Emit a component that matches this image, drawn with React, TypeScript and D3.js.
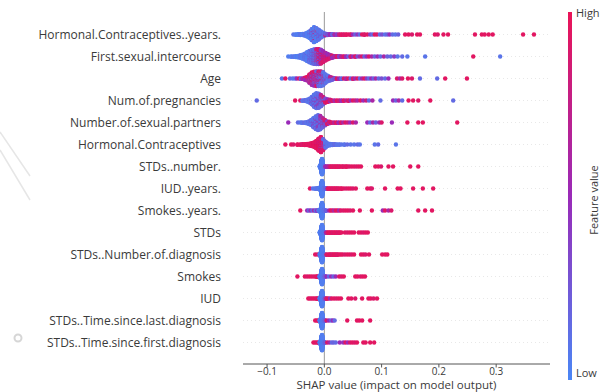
import React from 'react'
import * as d3 from 'd3'

// [shap value, number of points at that value, feature value 0 (low) .. 1 (high)]
type Group = [number, number, number]

const features = [
  'Hormonal.Contraceptives..years.',
  'First.sexual.intercourse',
  'Age',
  'Num.of.pregnancies',
  'Number.of.sexual.partners',
  'Hormonal.Contraceptives',
  'STDs..number.',
  'IUD..years.',
  'Smokes..years.',
  'STDs',
  'STDs..Number.of.diagnosis',
  'Smokes',
  'IUD',
  'STDs..Time.since.last.diagnosis',
  'STDs..Time.since.first.diagnosis',
]

const hcYears: Group[] = [
  [-0.054, 1, 0.1], [-0.05, 2, 0.05], [-0.046, 3, 0.05], [-0.042, 4, 0.1], [-0.038, 5, 0.05],
  [-0.034, 8, 0.1], [-0.03, 14, 0.05], [-0.026, 22, 0.05], [-0.026, 2, 0.5], [-0.022, 34, 0.05],
  [-0.022, 6, 0.6], [-0.018, 44, 0.05], [-0.018, 6, 0.9], [-0.018, 4, 0.5], [-0.014, 40, 0.05],
  [-0.014, 6, 0.9], [-0.01, 32, 0.1], [-0.01, 4, 0.5], [-0.006, 20, 0.1], [-0.006, 3, 0.6],
  [-0.002, 10, 0.1], [-0.002, 3, 0.5], [0.002, 5, 0.2], [0.002, 2, 0.7], [0.006, 4, 0.3],
  [0.01, 3, 0.5], [0.014, 3, 0.2], [0.018, 2, 0.6], [0.022, 2, 0.4], [0.026, 2, 0.8],
  [0.03, 2, 0.95], [0.034, 2, 0.9], [0.038, 2, 0.95], [0.042, 1, 0.95], [0.046, 2, 0.9],
  [0.05, 1, 0.5], [0.054, 1, 0.2], [0.058, 1, 0.45], [0.062, 1, 0.15], [0.066, 1, 0.95],
  [0.07, 2, 0.9], [0.075, 1, 0.95], [0.08, 1, 0.4], [0.084, 1, 0.15], [0.088, 1, 0.95],
  [0.092, 1, 0.9], [0.097, 1, 0.15], [0.101, 1, 0.3], [0.106, 1, 0.1], [0.11, 1, 0.2],
  [0.114, 1, 0.5], [0.119, 1, 0.15], [0.124, 1, 0.1], [0.129, 1, 0.2], [0.141, 1, 0.95],
  [0.147, 1, 0.95], [0.153, 1, 0.9], [0.162, 1, 0.95], [0.167, 1, 0.95], [0.193, 1, 0.95],
  [0.198, 1, 0.9], [0.208, 1, 0.95], [0.216, 1, 0.95], [0.263, 1, 0.95], [0.275, 1, 0.95],
  [0.28, 1, 0.95], [0.287, 1, 0.95], [0.294, 1, 0.95], [0.347, 1, 0.95], [0.366, 1, 0.95],
]

const firstSex: Group[] = [
  [-0.063, 1, 0.05], [-0.058, 2, 0.05], [-0.054, 2, 0.1], [-0.05, 4, 0.05], [-0.046, 6, 0.05],
  [-0.042, 9, 0.1], [-0.038, 14, 0.05], [-0.034, 20, 0.1], [-0.03, 28, 0.05], [-0.03, 2, 0.5],
  [-0.026, 34, 0.1], [-0.026, 4, 0.5], [-0.022, 38, 0.1], [-0.022, 6, 0.5], [-0.018, 38, 0.15],
  [-0.018, 10, 0.6], [-0.014, 34, 0.2], [-0.014, 16, 0.8], [-0.01, 28, 0.3], [-0.01, 22, 0.9],
  [-0.006, 20, 0.4], [-0.006, 26, 0.85], [-0.002, 14, 0.5], [-0.002, 22, 0.9], [0.002, 10, 0.6],
  [0.002, 16, 0.85], [0.006, 8, 0.5], [0.006, 10, 0.9], [0.01, 6, 0.6], [0.01, 6, 0.85],
  [0.014, 5, 0.5], [0.014, 3, 0.9], [0.018, 4, 0.6], [0.022, 3, 0.9], [0.026, 3, 0.4],
  [0.03, 2, 0.7], [0.034, 2, 0.9], [0.038, 2, 0.5], [0.042, 1, 0.2], [0.046, 2, 0.85],
  [0.05, 1, 0.5], [0.054, 2, 0.9], [0.058, 1, 0.3], [0.062, 1, 0.6], [0.066, 1, 0.9],
  [0.07, 1, 0.2], [0.074, 1, 0.5], [0.078, 1, 0.9], [0.083, 1, 0.6], [0.088, 1, 0.2],
  [0.093, 1, 0.5], [0.098, 1, 0.15], [0.104, 1, 0.6], [0.11, 1, 0.2], [0.116, 1, 0.15],
  [0.122, 1, 0.4], [0.128, 1, 0.1], [0.136, 1, 0.15], [0.145, 1, 0.1], [0.176, 1, 0.1],
  [0.26, 1, 0.95], [0.307, 1, 0.1],
]

const age: Group[] = [
  [-0.074, 1, 0.1], [-0.068, 1, 0.95], [-0.06, 1, 0.15], [-0.055, 1, 0.1], [-0.051, 1, 0.1],
  [-0.048, 1, 0.5], [-0.044, 1, 0.95], [-0.041, 2, 0.2], [-0.038, 2, 0.6], [-0.034, 4, 0.5],
  [-0.034, 2, 0.9], [-0.03, 6, 0.6], [-0.03, 4, 0.95], [-0.026, 10, 0.7], [-0.026, 8, 0.95],
  [-0.026, 4, 0.2], [-0.022, 14, 0.6], [-0.022, 12, 0.95], [-0.022, 6, 0.2], [-0.018, 14, 0.5],
  [-0.018, 12, 0.95], [-0.018, 10, 0.15], [-0.014, 12, 0.6], [-0.014, 14, 0.9], [-0.014, 12, 0.2],
  [-0.01, 10, 0.5], [-0.01, 12, 0.9], [-0.01, 16, 0.15], [-0.006, 8, 0.5], [-0.006, 10, 0.85],
  [-0.006, 20, 0.1], [-0.002, 6, 0.6], [-0.002, 6, 0.9], [-0.002, 22, 0.1], [0.002, 4, 0.6],
  [0.002, 18, 0.1], [0.006, 3, 0.5], [0.006, 12, 0.1], [0.01, 3, 0.7], [0.01, 7, 0.15],
  [0.014, 4, 0.2], [0.014, 2, 0.8], [0.018, 3, 0.3], [0.022, 2, 0.9], [0.026, 2, 0.5],
  [0.03, 2, 0.15], [0.034, 1, 0.9], [0.038, 2, 0.6], [0.042, 1, 0.95], [0.046, 1, 0.2],
  [0.05, 2, 0.85], [0.054, 1, 0.5], [0.058, 1, 0.95], [0.062, 1, 0.2], [0.066, 1, 0.6],
  [0.07, 1, 0.95], [0.074, 1, 0.4], [0.078, 1, 0.15], [0.082, 1, 0.5], [0.086, 1, 0.2],
  [0.09, 1, 0.6], [0.095, 1, 0.15], [0.1, 1, 0.3], [0.106, 1, 0.15], [0.112, 1, 0.5],
  [0.127, 1, 0.9], [0.132, 1, 0.6], [0.136, 1, 0.9], [0.146, 1, 0.95], [0.153, 1, 0.9],
  [0.167, 1, 0.15], [0.197, 1, 0.15], [0.211, 1, 0.95], [0.249, 1, 0.95],
]

const pregnancies: Group[] = [
  [-0.118, 1, 0.15], [-0.051, 1, 0.95], [-0.042, 1, 0.9], [-0.038, 2, 0.1], [-0.034, 3, 0.15],
  [-0.03, 6, 0.1], [-0.026, 11, 0.1], [-0.026, 1, 0.5], [-0.022, 18, 0.1], [-0.022, 4, 0.5],
  [-0.018, 28, 0.1], [-0.018, 8, 0.5], [-0.014, 34, 0.1], [-0.014, 10, 0.55], [-0.01, 32, 0.15],
  [-0.01, 10, 0.6], [-0.006, 24, 0.15], [-0.006, 10, 0.7], [-0.002, 14, 0.2], [-0.002, 8, 0.8],
  [0.002, 6, 0.3], [0.002, 6, 0.9], [0.006, 4, 0.5], [0.006, 4, 0.95], [0.01, 3, 0.8],
  [0.01, 2, 0.5], [0.014, 2, 0.9], [0.018, 2, 0.6], [0.022, 2, 0.95], [0.026, 2, 0.8],
  [0.03, 2, 0.5], [0.034, 2, 0.95], [0.038, 1, 0.7], [0.042, 2, 0.9], [0.046, 1, 0.5],
  [0.05, 1, 0.95], [0.054, 1, 0.8], [0.058, 1, 0.6], [0.063, 1, 0.95], [0.068, 1, 0.5],
  [0.073, 1, 0.8], [0.078, 1, 0.15], [0.084, 1, 0.6], [0.098, 1, 0.15], [0.12, 1, 0.5],
  [0.125, 1, 0.2], [0.13, 1, 0.6], [0.136, 1, 0.15], [0.147, 1, 0.95], [0.155, 1, 0.95],
  [0.164, 1, 0.9], [0.185, 1, 0.95], [0.225, 1, 0.15],
]

const partners: Group[] = [
  [-0.063, 1, 0.5], [-0.046, 1, 0.15], [-0.042, 1, 0.1], [-0.039, 2, 0.1], [-0.035, 2, 0.15],
  [-0.031, 4, 0.1], [-0.027, 7, 0.1], [-0.027, 1, 0.5], [-0.023, 12, 0.1], [-0.023, 3, 0.5],
  [-0.019, 20, 0.1], [-0.019, 6, 0.5], [-0.015, 28, 0.1], [-0.015, 8, 0.55], [-0.011, 32, 0.15],
  [-0.011, 10, 0.6], [-0.007, 28, 0.15], [-0.007, 10, 0.6], [-0.003, 18, 0.2], [-0.003, 8, 0.7],
  [0.001, 10, 0.3], [0.001, 6, 0.85], [0.005, 4, 0.4], [0.005, 4, 0.9], [0.009, 2, 0.5],
  [0.009, 3, 0.9], [0.013, 2, 0.9], [0.017, 2, 0.7], [0.021, 2, 0.95], [0.025, 2, 0.5],
  [0.029, 2, 0.9], [0.033, 1, 0.6], [0.037, 1, 0.95], [0.041, 1, 0.8], [0.045, 1, 0.5],
  [0.05, 1, 0.9], [0.055, 1, 0.6], [0.075, 1, 0.5], [0.08, 1, 0.15], [0.085, 1, 0.6],
  [0.09, 1, 0.2], [0.096, 1, 0.5], [0.1, 1, 0.9], [0.118, 1, 0.5], [0.145, 1, 0.95],
  [0.164, 1, 0.95], [0.172, 1, 0.95], [0.232, 1, 0.95],
]

const hc: Group[] = [
  [-0.068, 1, 0.95], [-0.058, 1, 0.95], [-0.054, 1, 0.9], [-0.047, 2, 0.95], [-0.042, 2, 0.95],
  [-0.038, 3, 0.9], [-0.034, 4, 0.95], [-0.03, 5, 0.95], [-0.026, 8, 0.95], [-0.022, 12, 0.95],
  [-0.018, 18, 0.95], [-0.014, 28, 0.95], [-0.014, 2, 0.6], [-0.01, 44, 0.95], [-0.01, 4, 0.6],
  [-0.006, 52, 0.95], [-0.006, 6, 0.55], [-0.006, 4, 0.2], [-0.002, 26, 0.9], [-0.002, 8, 0.55],
  [-0.002, 10, 0.15], [0.002, 20, 0.1], [0.002, 4, 0.6], [0.006, 10, 0.1], [0.01, 6, 0.1],
  [0.014, 4, 0.1], [0.018, 3, 0.15], [0.022, 2, 0.1], [0.026, 2, 0.1], [0.03, 1, 0.1],
  [0.035, 2, 0.1], [0.04, 1, 0.15], [0.046, 1, 0.1], [0.052, 1, 0.1], [0.058, 1, 0.15],
  [0.062, 1, 0.1], [0.088, 1, 0.1], [0.094, 1, 0.15], [0.125, 1, 0.1],
]

// the narrow blue spike just left of zero shared by the sparse binary/count features
const zeroSpike: Group[] = [
  [-0.008, 3, 0.05], [-0.007, 8, 0.05], [-0.006, 24, 0.05], [-0.005, 55, 0.05], [-0.004, 70, 0.05],
  [-0.003, 45, 0.05], [-0.002, 14, 0.05], [-0.001, 5, 0.1],
]

const stdsNumber: Group[] = [
  ...zeroSpike,
  [0.002, 2, 0.5], [0.005, 2, 0.6], [0.008, 2, 0.7], [0.011, 2, 0.9], [0.014, 2, 0.95],
  [0.017, 2, 0.9], [0.02, 2, 0.95], [0.023, 2, 0.95], [0.026, 2, 0.9], [0.029, 1, 0.95],
  [0.032, 2, 0.95], [0.035, 1, 0.9], [0.038, 2, 0.95], [0.041, 1, 0.95], [0.044, 1, 0.9],
  [0.048, 1, 0.95], [0.052, 1, 0.95], [0.056, 1, 0.9], [0.06, 1, 0.95], [0.064, 1, 0.95],
  [0.089, 1, 0.95], [0.094, 1, 0.95], [0.099, 1, 0.9], [0.112, 1, 0.95], [0.12, 1, 0.95],
  [0.15, 1, 0.95], [0.164, 1, 0.95],
]

const iudYears: Group[] = [
  [-0.025, 1, 0.95], [-0.02, 1, 0.1], [-0.016, 2, 0.1], [-0.012, 3, 0.1], [-0.01, 4, 0.1],
  ...zeroSpike,
  [0.0, 4, 0.1], [0.002, 3, 0.15], [0.004, 2, 0.2],
  [0.006, 2, 0.9], [0.009, 2, 0.95], [0.012, 2, 0.95], [0.015, 2, 0.9], [0.018, 2, 0.95],
  [0.021, 2, 0.95], [0.024, 2, 0.9], [0.027, 1, 0.95], [0.03, 2, 0.95], [0.034, 1, 0.95],
  [0.038, 1, 0.9], [0.042, 1, 0.95], [0.046, 1, 0.95], [0.05, 1, 0.9], [0.055, 1, 0.95],
  [0.075, 1, 0.95], [0.08, 1, 0.95], [0.083, 1, 0.9], [0.106, 1, 0.95], [0.128, 1, 0.95],
  [0.133, 1, 0.95], [0.155, 1, 0.95], [0.172, 1, 0.95], [0.19, 1, 0.95],
]

const smokesYears: Group[] = [
  [-0.042, 1, 0.95], [-0.03, 1, 0.5], [-0.027, 1, 0.2], [-0.024, 1, 0.5], [-0.021, 1, 0.15],
  [-0.018, 1, 0.6], [-0.015, 2, 0.15], [-0.012, 2, 0.5], [-0.01, 3, 0.1],
  ...zeroSpike,
  [0.0, 3, 0.1], [0.003, 2, 0.2],
  [0.008, 1, 0.5], [0.011, 1, 0.95], [0.014, 1, 0.9], [0.017, 1, 0.6], [0.02, 1, 0.95],
  [0.023, 1, 0.95], [0.026, 1, 0.5], [0.029, 1, 0.95], [0.033, 1, 0.9], [0.037, 1, 0.95],
  [0.041, 1, 0.95], [0.045, 1, 0.9], [0.05, 1, 0.95], [0.062, 1, 0.95], [0.083, 1, 0.95],
  [0.102, 1, 0.5], [0.106, 1, 0.95], [0.112, 1, 0.6], [0.117, 1, 0.9], [0.164, 1, 0.95],
  [0.176, 1, 0.95], [0.188, 1, 0.95],
]

const stds: Group[] = [
  ...zeroSpike,
  [0.003, 2, 0.6], [0.006, 2, 0.9], [0.009, 2, 0.95], [0.012, 2, 0.95], [0.015, 2, 0.9],
  [0.018, 2, 0.95], [0.021, 2, 0.95], [0.024, 2, 0.9], [0.027, 2, 0.95], [0.03, 1, 0.95],
  [0.036, 1, 0.95], [0.04, 1, 0.9], [0.044, 1, 0.95], [0.048, 1, 0.95], [0.052, 1, 0.95],
  [0.06, 1, 0.95], [0.064, 1, 0.95], [0.068, 1, 0.9], [0.072, 1, 0.95], [0.076, 1, 0.95],
]

const stdsDiagnosis: Group[] = [
  [-0.016, 1, 0.95], [-0.012, 1, 0.9],
  ...zeroSpike,
  [0.004, 2, 0.9], [0.008, 2, 0.95], [0.011, 2, 0.95], [0.014, 2, 0.9], [0.017, 2, 0.95],
  [0.02, 2, 0.95], [0.023, 2, 0.9], [0.026, 1, 0.95], [0.029, 1, 0.95], [0.032, 1, 0.95],
  [0.036, 1, 0.9], [0.04, 1, 0.95], [0.044, 1, 0.95], [0.048, 1, 0.9], [0.052, 1, 0.95],
  [0.064, 1, 0.95], [0.068, 1, 0.95], [0.072, 1, 0.9], [0.078, 1, 0.95], [0.101, 1, 0.95],
  [0.106, 1, 0.95], [0.11, 1, 0.95],
]

const smokes: Group[] = [
  [-0.047, 1, 0.95], [-0.034, 1, 0.95], [-0.03, 1, 0.9], [-0.026, 1, 0.95], [-0.022, 1, 0.95],
  [-0.018, 1, 0.9], [-0.014, 2, 0.95], [-0.011, 2, 0.95], [-0.009, 2, 0.6],
  ...zeroSpike,
  [0.001, 3, 0.2], [0.004, 1, 0.5], [0.008, 1, 0.15], [0.012, 1, 0.5], [0.016, 1, 0.2],
  [0.02, 1, 0.5], [0.026, 1, 0.95], [0.03, 1, 0.9], [0.034, 1, 0.95], [0.054, 1, 0.95],
  [0.058, 1, 0.95], [0.063, 1, 0.9], [0.067, 1, 0.95], [0.071, 1, 0.95],
]

const iud: Group[] = [
  [-0.028, 1, 0.95], [-0.025, 1, 0.95], [-0.022, 1, 0.9], [-0.019, 1, 0.95], [-0.016, 1, 0.95],
  [-0.013, 2, 0.9], [-0.01, 2, 0.95],
  ...zeroSpike,
  [0.001, 2, 0.3], [0.004, 2, 0.9], [0.007, 1, 0.95], [0.01, 1, 0.5], [0.013, 1, 0.95],
  [0.017, 1, 0.95], [0.021, 1, 0.9], [0.025, 1, 0.95], [0.029, 1, 0.95], [0.042, 1, 0.95],
  [0.047, 1, 0.95], [0.054, 1, 0.9], [0.066, 1, 0.95], [0.077, 1, 0.95], [0.081, 1, 0.95],
  [0.086, 1, 0.9], [0.092, 1, 0.95],
]

const stdsLast: Group[] = [
  [-0.016, 1, 0.95], [-0.013, 1, 0.95], [-0.01, 2, 0.9],
  ...zeroSpike,
  [0.001, 2, 0.2], [0.004, 1, 0.9], [0.008, 1, 0.5], [0.012, 1, 0.2], [0.015, 1, 0.5],
  [0.018, 1, 0.15], [0.04, 1, 0.95], [0.057, 1, 0.95], [0.061, 1, 0.95], [0.066, 1, 0.95],
  [0.08, 1, 0.95],
]

const stdsFirst: Group[] = [
  [-0.019, 1, 0.95], [-0.016, 1, 0.95], [-0.013, 1, 0.9], [-0.01, 2, 0.95],
  ...zeroSpike,
  [0.001, 2, 0.2], [0.005, 1, 0.9], [0.009, 1, 0.6], [0.013, 1, 0.15], [0.016, 1, 0.2],
  [0.02, 1, 0.15], [0.027, 1, 0.5], [0.033, 1, 0.45], [0.037, 1, 0.95], [0.041, 1, 0.5],
  [0.045, 1, 0.9], [0.049, 1, 0.95], [0.053, 1, 0.9], [0.057, 1, 0.95], [0.068, 1, 0.95],
  [0.072, 1, 0.95], [0.08, 1, 0.95], [0.087, 1, 0.95],
]

const rowData = [
  hcYears, firstSex, age, pregnancies, partners, hc, stdsNumber, iudYears,
  smokesYears, stds, stdsDiagnosis, smokes, iud, stdsLast, stdsFirst,
]

const xTicks = [-0.1, 0, 0.1, 0.2, 0.3]

const W = 601
const H = 392
const left = 243
const right = 550
const top = 12
const axisY = 364
const rowTop = 34.5
const rowStep = 22
const font = '"Open Sans", "Noto Sans", sans-serif'

const x = d3.scaleLinear().domain([-0.142, 0.394]).range([left, right])
const color = d3.scaleLinear<string>()
  .domain([0, 0.5, 1])
  .range(['#4a86f5', '#9a2ab8', '#ea1457'])
  .interpolate(d3.interpolateRgb)

type Pt = { v: number; fv: number; ord: number; y: number }

// beeswarm stacking like shap: each value column alternates up/down
function swarm(groups: Group[]): Pt[] {
  const pts: Pt[] = []
  groups.forEach(([v, n, fv]) => {
    for (let k = 0; k < n; k++) pts.push({ v, fv, ord: (k + 0.5) / n, y: 0 })
  })
  pts.sort((a, b) => a.v - b.v || a.ord - b.ord)
  let last = NaN
  let layer = 0
  pts.forEach(p => {
    if (p.v !== last) { layer = 0; last = p.v }
    p.y = Math.ceil(layer / 2) * (layer % 2 ? 1 : -1)
    layer++
  })
  const m = d3.max(pts, p => p.y) ?? 0
  pts.forEach(p => { p.y = p.y * 0.9 * (0.4 / (m + 1)) * rowStep })
  return pts
}

export default function App() {
  const rows = rowData.map(swarm)
  return (
    <svg width={W} height={H} style={{ position: 'absolute', left: 0, top: 0, background: '#fff' }} fontFamily={font}>
      <defs>
        <linearGradient id="cb" x1="0" y1="1" x2="0" y2="0">
          {d3.range(0, 1.01, 0.1).map(t => (
            <stop key={t} offset={t} stopColor={color(t)} />
          ))}
        </linearGradient>
      </defs>

      {/* faint marks in the background of the original screenshot */}
      <g stroke="#e6e6e6" strokeWidth={1.5} fill="none">
        <line x1={0} y1={132} x2={30} y2={176} />
        <line x1={0} y1={150} x2={30} y2={200} />
        <circle cx={18} cy={338} r={3.5} stroke="#d6d6d6" strokeWidth={2} />
      </g>

      {features.map((f, i) => {
        const cy = rowTop + i * rowStep
        return (
          <g key={f}>
            <line x1={left} x2={right} y1={cy} y2={cy} stroke="#d8d8d8" strokeWidth={0.6} strokeDasharray="1,3" />
            <text x={221} y={cy} dy="0.35em" textAnchor="end" fontSize={12} fill="#3a3a3a">{f}</text>
          </g>
        )
      })}

      <line x1={x(0)} x2={x(0)} y1={top} y2={axisY} stroke="#999" strokeWidth={1} />

      {rows.map((pts, i) => {
        const cy = rowTop + i * rowStep
        return (
          <g key={i}>
            {pts.map((p, j) => (
              <circle key={j} cx={x(p.v)} cy={cy + p.y} r={2.2} fill={color(p.fv)} />
            ))}
          </g>
        )
      })}

      <g>
        <line x1={left} x2={right} y1={axisY} y2={axisY} stroke="#555" strokeWidth={1} />
        {xTicks.map(t => (
          <g key={t} transform={`translate(${x(t)},${axisY})`}>
            <line y2={3.5} stroke="#555" />
            <text y={10.5} textAnchor="middle" fontSize={10} fill="#3a3a3a">{d3.format('.1f')(t).replace('-', '\u2212')}</text>
          </g>
        ))}
        <text x={(left + right) / 2} y={388.5} textAnchor="middle" fontSize={11.5} fill="#3a3a3a">
          SHAP value (impact on model output)
        </text>
      </g>

      <rect x={568} y={12} width={4} height={368} fill="url(#cb)" />
      <text x={576} y={13} dy="0.35em" fontSize={11} fill="#3a3a3a">High</text>
      <text x={576} y={373} dy="0.35em" fontSize={11} fill="#3a3a3a">Low</text>
      <text transform="translate(597.5,200) rotate(-90)" textAnchor="middle" fontSize={11} fill="#3a3a3a">Feature value</text>
    </svg>
  )
}
